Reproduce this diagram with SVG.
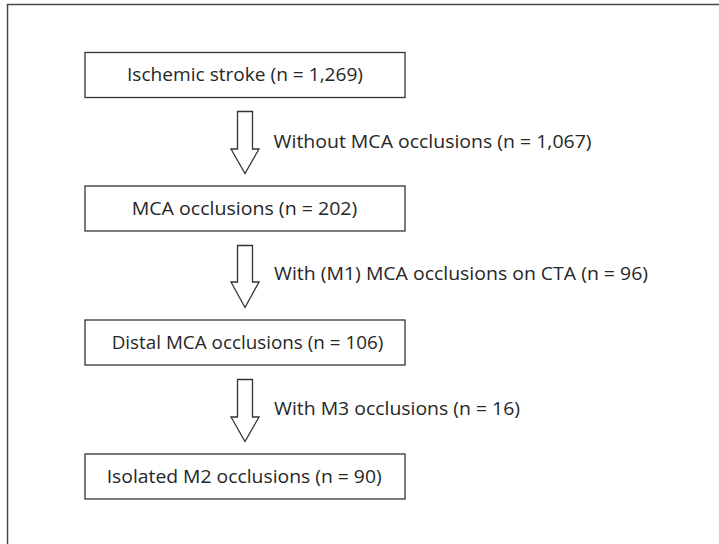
<svg xmlns="http://www.w3.org/2000/svg" width="719" height="544" viewBox="0 0 719 544">
<style>
.frame{fill:none;stroke:#4a4a4a;stroke-width:1.5}
.box{fill:#fff;stroke:#333;stroke-width:1.3}
.arrow{fill:#fff;stroke:#333;stroke-width:1.3;stroke-linejoin:miter}
text{font-family:"Open Sans","Noto Sans","DejaVu Sans",sans-serif;font-size:19px;fill:#262626}
.c{text-anchor:middle}
</style>
<rect width="719" height="544" fill="#fff"/>
<path class="frame" d="M7.5,544 V4.5 H719"/>
<g id="n1"><rect class="box" x="85" y="52.5" width="320" height="45"/><text class="c" x="245" y="81" textLength="236" lengthAdjust="spacingAndGlyphs">Ischemic stroke (n = 1,269)</text></g>
<g id="n2"><rect class="box" x="85" y="186" width="320" height="45"/><text class="c" x="244.5" y="214.5" textLength="225.6" lengthAdjust="spacingAndGlyphs">MCA occlusions (n = 202)</text></g>
<g id="n3"><rect class="box" x="85" y="320" width="320" height="45"/><text class="c" x="247.5" y="349" textLength="271.6" lengthAdjust="spacingAndGlyphs">Distal MCA occlusions (n = 106)</text></g>
<g id="n4"><rect class="box" x="85" y="454" width="320" height="45"/><text class="c" x="244.2" y="482.5" textLength="275" lengthAdjust="spacingAndGlyphs">Isolated M2 occlusions (n = 90)</text></g>
<g id="connectors">
<path class="arrow" d="M237.5,111.5 H252.5 V149 H259 L245,173.5 L231,149 H237.5 Z"/>
<text x="273.5" y="148" textLength="318" lengthAdjust="spacingAndGlyphs">Without MCA occlusions (n = 1,067)</text>
<path class="arrow" d="M237.5,245.5 H252.5 V282 H259 L245,307.5 L231,282 H237.5 Z"/>
<text x="274" y="280" textLength="374" lengthAdjust="spacingAndGlyphs">With (M1) MCA occlusions on CTA (n = 96)</text>
<path class="arrow" d="M237.5,379.5 H252.5 V417 H259 L245,441.5 L231,417 H237.5 Z"/>
<text x="274" y="415" textLength="246" lengthAdjust="spacingAndGlyphs">With M3 occlusions (n = 16)</text>
</g>
</svg>
